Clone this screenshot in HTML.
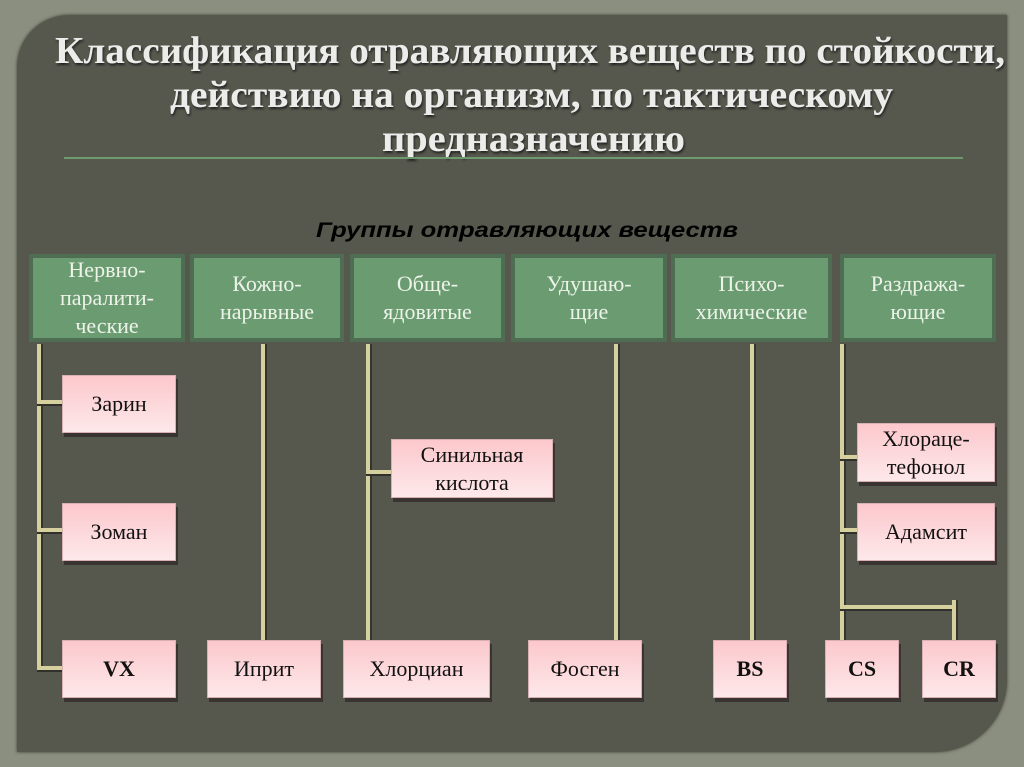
<!DOCTYPE html>
<html><head><meta charset="utf-8"><style>
body{margin:0;width:1024px;height:767px;overflow:hidden;background:#8b8f7f;position:relative;font-family:"Liberation Serif",serif}
.panel{position:absolute;left:17px;top:15px;width:990px;height:737px;background:#56584d;border-radius:52px 0 72px 0;box-shadow:0 0 3px #3c3e36}
.h{position:absolute;top:254px;height:80px;background:#6b9c71;border:4px solid #4f6d52;color:#eef3ea;font-size:22px;line-height:28px;text-align:center;display:flex;align-items:center;justify-content:center}
.p{position:absolute;background:linear-gradient(#fcc8cc,#fde8ea);border:1px solid #d8b0b4;box-shadow:2px 4px 0 #3a3430;color:#111;font-size:22px;line-height:28px;text-align:center;display:flex;align-items:center;justify-content:center}
.v{position:absolute;width:4px;background:#d6d09e;box-shadow:2px 0 0 #33352e}
.hz{position:absolute;height:4px;background:#d6d09e;box-shadow:0 2px 0 #2f312a}
</style></head><body>
<div class="panel"></div>
<svg style="position:absolute;left:0;top:0" width="1024" height="767">
<defs><filter id="s"><feDropShadow dx="1" dy="2" stdDeviation="1" flood-color="#222"/></filter></defs>
<g font-family="Liberation Serif, serif" font-weight="bold" font-size="38" fill="#ececea" filter="url(#s)">
<text x="55" y="63" textLength="950" lengthAdjust="spacingAndGlyphs">Классификация отравляющих веществ по стойкости,</text>
<text x="170" y="107" textLength="723" lengthAdjust="spacingAndGlyphs">действию на организм, по тактическому</text>
<text x="382" y="151" textLength="303" lengthAdjust="spacingAndGlyphs">предназначению</text>
</g>
<line x1="64" y1="158" x2="963" y2="158" stroke="#6f9a70" stroke-width="2"/>
<text x="316" y="237" textLength="422" lengthAdjust="spacingAndGlyphs" font-family="Liberation Sans, sans-serif" font-weight="bold" font-style="italic" font-size="21" fill="#000">Группы отравляющих веществ</text>
</svg>
<div class="h" style="left:29px;width:148px">Нервно-<br>паралити-<br>ческие</div>
<div class="h" style="left:190px;width:146px">Кожно-<br>нарывные</div>
<div class="h" style="left:350px;width:147px">Обще-<br>ядовитые</div>
<div class="h" style="left:511px;width:148px">Удушаю-<br>щие</div>
<div class="h" style="left:671px;width:153px">Психо-<br>химические</div>
<div class="h" style="left:840px;width:148px">Раздража-<br>ющие</div>

<div class="v" style="left:37px;top:344px;height:326px"></div>
<div class="hz" style="left:37px;top:666px;width:26px"></div>
<div class="hz" style="left:37px;top:400px;width:26px"></div>
<div class="hz" style="left:37px;top:528px;width:26px"></div>
<div class="v" style="left:261px;top:344px;height:297px"></div>
<div class="v" style="left:366px;top:344px;height:297px"></div>
<div class="hz" style="left:366px;top:470px;width:26px"></div>
<div class="v" style="left:614px;top:344px;height:297px"></div>
<div class="v" style="left:750px;top:344px;height:297px"></div>
<div class="v" style="left:840px;top:344px;height:297px"></div>
<div class="hz" style="left:840px;top:455px;width:18px"></div>
<div class="hz" style="left:840px;top:528px;width:18px"></div>
<div class="hz" style="left:840px;top:605px;width:115px"></div>
<div class="v" style="left:952px;top:600px;height:41px"></div>

<div class="p" style="left:62px;top:375px;width:112px;height:56px">Зарин</div>
<div class="p" style="left:62px;top:503px;width:112px;height:56px">Зоман</div>
<div class="p" style="left:62px;top:640px;width:112px;height:56px;font-weight:bold">VX</div>
<div class="p" style="left:207px;top:640px;width:112px;height:56px">Иприт</div>
<div class="p" style="left:343px;top:640px;width:145px;height:56px">Хлорциан</div>
<div class="p" style="left:391px;top:439px;width:160px;height:57px">Синильная<br>кислота</div>
<div class="p" style="left:528px;top:640px;width:112px;height:56px">Фосген</div>
<div class="p" style="left:713px;top:640px;width:72px;height:56px;font-weight:bold">BS</div>
<div class="p" style="left:825px;top:640px;width:72px;height:56px;font-weight:bold">CS</div>
<div class="p" style="left:922px;top:640px;width:72px;height:56px;font-weight:bold">CR</div>
<div class="p" style="left:857px;top:423px;width:136px;height:57px">Хлораце-<br>тефонол</div>
<div class="p" style="left:857px;top:503px;width:136px;height:56px">Адамсит</div>
</body></html>
